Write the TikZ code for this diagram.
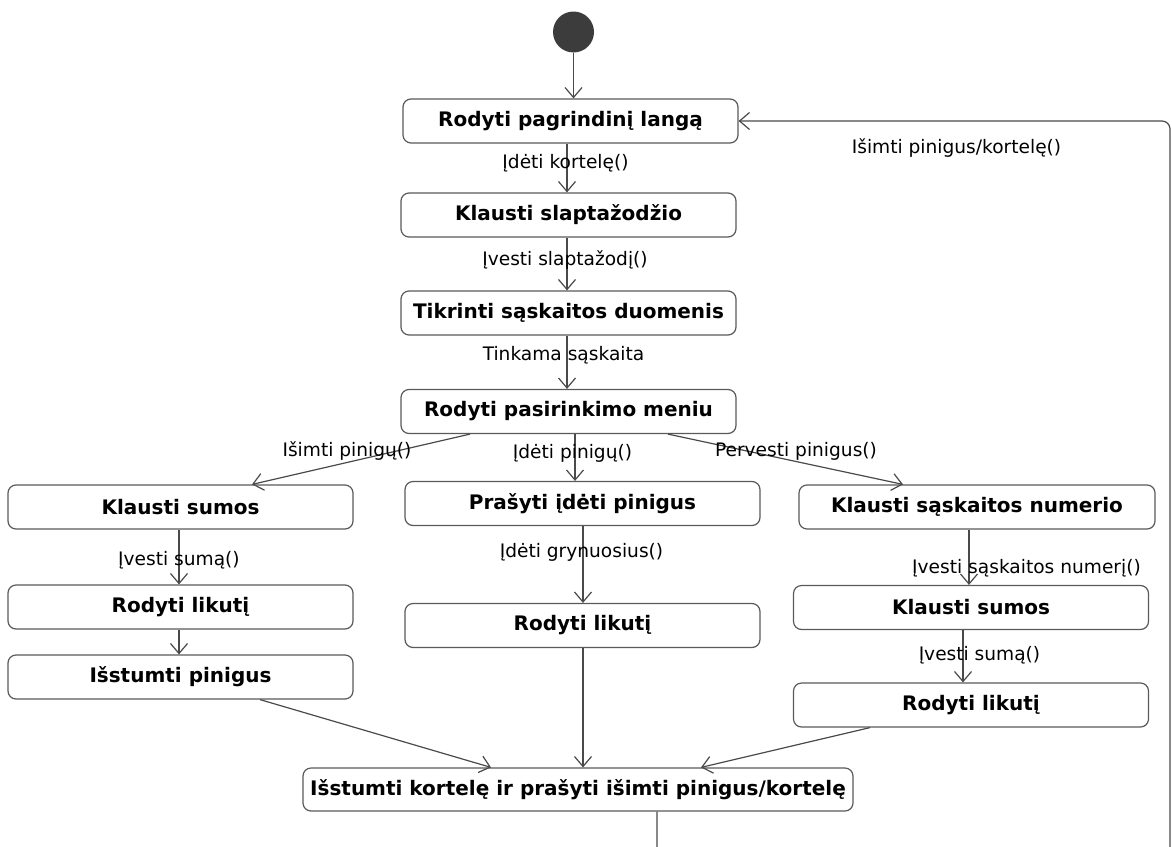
\documentclass[tikz,border=0pt]{standalone}
\usepackage{fontspec}
\setmainfont{DejaVu Sans}
\usetikzlibrary{arrows.meta}
\definecolor{linec}{HTML}{4A4A4A}
\definecolor{boxc}{HTML}{5A5A5A}
\definecolor{dotc}{HTML}{3C3C3C}
\begin{document}
\begin{tikzpicture}[x=1pt,y=-1pt,
  state/.style={draw=boxc, line width=1.2pt, rounded corners=8pt, fill=white,
    inner sep=0pt, font=\fontsize{20}{23}\selectfont\bfseries},
  wideA/.style={minimum width=335pt, minimum height=44pt},
  wideL/.style={minimum width=345pt, minimum height=44pt},
  wideM/.style={minimum width=355pt, minimum height=44pt},
  wideB/.style={minimum width=550pt, minimum height=43pt},
  lbl/.style={inner sep=0pt, font=\fontsize{18.6}{21}\selectfont},
  arr/.style={draw=linec, line width=1.2pt, -{Straight Barb[length=10pt,width=17pt]}},
  start/.style={circle, fill=dotc, minimum size=41pt, inner sep=0pt}
]
\useasboundingbox (0,0) rectangle (1172,846);
\clip (0,0) rectangle (1172,846);
\fill[white] (0,0) rectangle (1172,846);

% initial state
\node[start] (st) at (573.5,32) {};

% main column
\node[state, wideA] (b1) at (570.5,121)   {Rodyti pagrindinį langą};
\node[state, wideA] (b2) at (568.5,215)   {Klausti slaptažodžio};
\node[state, wideA] (b3) at (568.5,313)   {Tikrinti sąskaitos duomenis};
\node[state, wideA] (b4) at (568.5,411.5) {Rodyti pasirinkimo meniu};

% withdrawal branch
\node[state, wideL] (kl) at (180.5,507) {Klausti sumos};
\node[state, wideL] (rl) at (180.5,607) {Rodyti likutį};
\node[state, wideL] (ip) at (180.5,677) {Išstumti pinigus};

% deposit branch
\node[state, wideM] (pr) at (582.5,503.5) {Prašyti įdėti pinigus};
\node[state, wideM] (rm) at (582.5,625.5) {Rodyti likutį};

% transfer branch
\node[state, minimum width=356pt, minimum height=44pt] (ksn) at (977,507) {Klausti sąskaitos numerio};
\node[state, wideM] (ksr) at (971,607.5) {Klausti sumos};
\node[state, wideM] (rr)  at (971,705)   {Rodyti likutį};

% final state
\node[state, wideB] (bot) at (578,789.5) {Išstumti kortelę ir prašyti išimti pinigus/kortelę};

% vertical guide lines for connectors
\coordinate (x573) at (573.5,0);
\coordinate (x567) at (567,0);
\coordinate (x575) at (575,0);
\coordinate (x179) at (179,0);
\coordinate (x583) at (583,0);
\coordinate (x969) at (969,0);
\coordinate (x963) at (963,0);
\coordinate (x657) at (657,0);
\coordinate (retA) at (657,880);
\coordinate (retB) at (1170,880);
\coordinate (retC) at (1170,121);

% transitions
\draw[arr] (st.south -| x573) -- (b1.north -| x573);
\draw[arr] (b1.south -| x567) -- (b2.north -| x567);
\draw[arr] (b2.south -| x567) -- (b3.north -| x567);
\draw[arr] (b3.south -| x567) -- (b4.north -| x567);

\draw[arr] ([xshift=-98.5pt]b4.south) -- ([xshift=71.5pt]kl.north);
\draw[arr] (b4.south -| x575) -- (pr.north -| x575);
\draw[arr] ([xshift=99.5pt]b4.south) -- ([xshift=-74pt]ksn.north);

\draw[arr] (kl.south -| x179) -- (rl.north -| x179);
\draw[arr] (rl.south -| x179) -- (ip.north -| x179);
\draw[arr] ([xshift=79.5pt]ip.south) -- ([xshift=-87pt]bot.north);

\draw[arr] (pr.south -| x583) -- (rm.north -| x583);
\draw[arr] (rm.south -| x583) -- (bot.north -| x583);

\draw[arr] (ksn.south -| x969) -- (ksr.north -| x969);
\draw[arr] (ksr.south -| x963) -- (rr.north -| x963);
\draw[arr] ([xshift=-101pt]rr.south) -- ([xshift=123pt]bot.north);

% return to the main window
\draw[arr, rounded corners=8pt] (bot.south -| x657) -- (retA) -- (retB) -- (retC) -- (b1.east);

% transition labels
\node[lbl] (l1)  at (565.5,163) {Įdėti kortelę()};
\node[lbl] (l2)  at (565,260)   {Įvesti slaptažodį()};
\node[lbl] (l3)  at (563.5,355) {Tinkama sąskaita};
\node[lbl] (l4)  at (347,451)   {Išimti pinigų()};
\node[lbl] (l5)  at (572.5,453) {Įdėti pinigų()};
\node[lbl] (l6)  at (796,451)   {Pervesti pinigus()};
\node[lbl] (l7)  at (179,560)   {Įvesti sumą()};
\node[lbl] (l8)  at (581.5,552) {Įdėti grynuosius()};
\node[lbl] (l9)  at (1026.5,568) {Įvesti sąskaitos numerį()};
\node[lbl] (l10) at (979.5,655) {Įvesti sumą()};
\node[lbl] (l11) at (956.5,148) {Išimti pinigus/kortelę()};
\end{tikzpicture}
\end{document}
